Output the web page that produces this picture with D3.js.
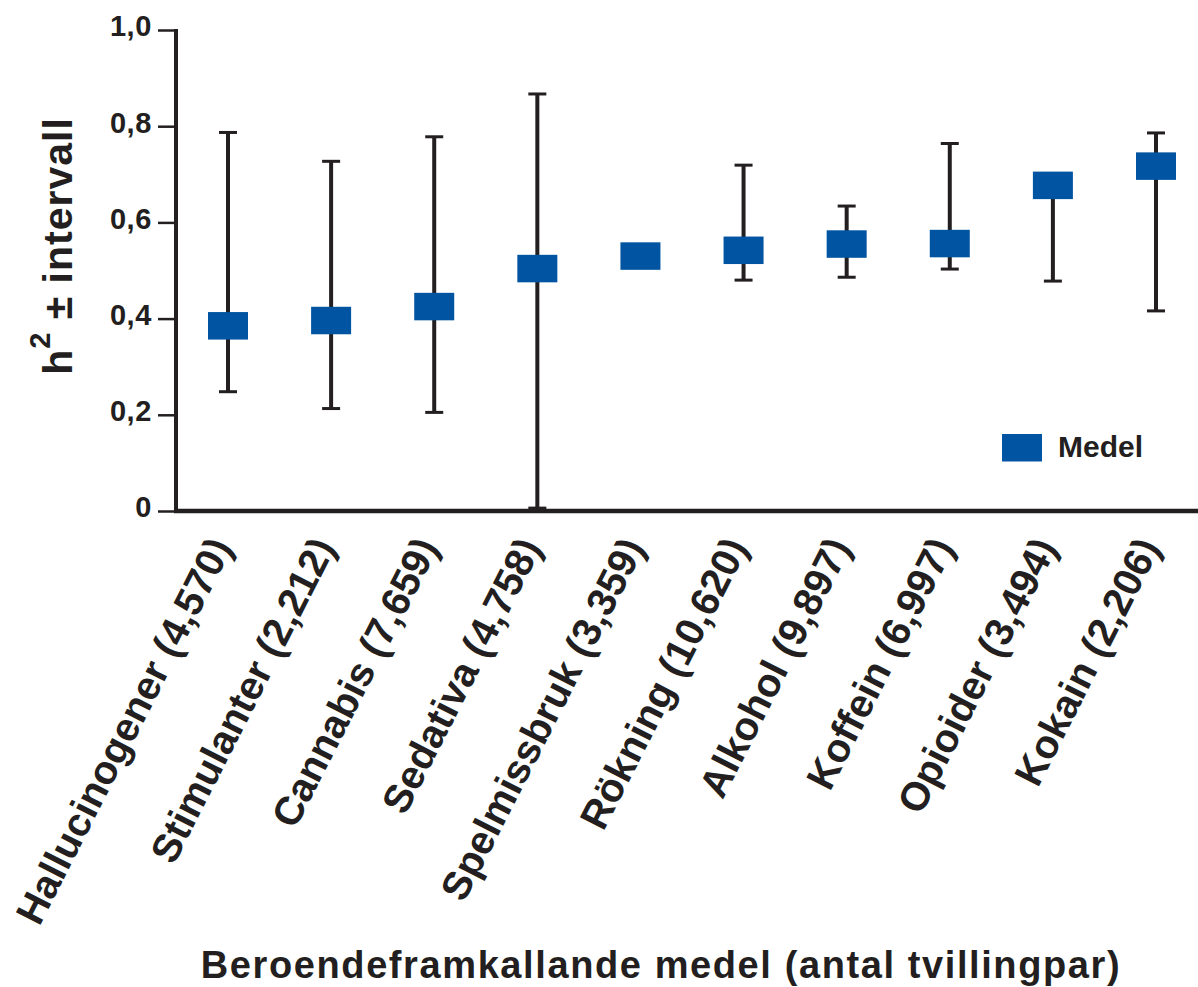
<!DOCTYPE html>
<html>
<head>
<meta charset="utf-8">
<script src="https://cdn.jsdelivr.net/npm/d3@7"></script>
<style>
  html, body { margin: 0; padding: 0; background: #fff; }
  svg { display: block; font-family: "Liberation Sans", Arial, Helvetica, sans-serif; font-weight: bold; }
</style>
</head>
<body>
<svg id="chart" width="1198" height="987"></svg>
<script>
// Substances (number of twin pairs in parentheses)
const categories = [
  "Hallucinogener (4,570)", "Stimulanter (2,212)", "Cannabis (7,659)",
  "Sedativa (4,758)", "Spelmissbruk (3,359)", "Rökning (10,620)",
  "Alkohol (9,897)", "Koffein (6,997)", "Opioider (3,494)", "Kokain (2,206)"
];
// Mean heritability estimate (h²) per substance
const means = [0.385, 0.396, 0.425, 0.504, 0.530, 0.542, 0.555, 0.556, 0.677, 0.717];
// Upper and lower bounds of the interval (null = no whisker drawn)
const upper = [0.787, 0.727, 0.778, 0.867, null, 0.719, 0.634, 0.764, null, 0.786];
const lower = [0.248, 0.213, 0.205, 0.006, null, 0.480, 0.486, 0.503, 0.478, 0.416];
// Y axis ticks and their labels
const yTicks = [0, 0.2, 0.4, 0.6, 0.8, 1.0];
const yTickLabels = ["0", "0,2", "0,4", "0,6", "0,8", "1,0"];

const rows = categories.map((c, i) => ({ cat: c, mean: means[i], hi: upper[i], lo: lower[i] }));

const W = 1198, H = 987;
const margin = { left: 176, top: 30, bottom: 476 };
const plotBottom = H - margin.bottom;   // y of the zero line

const svg = d3.select("#chart");
const ink = "#231f20";
const blue = "#0054a1";

const x = d3.scalePoint().domain(categories).range([margin.left + 52, margin.left + 980]);
const y = d3.scaleLinear().domain([0, 1]).range([plotBottom, margin.top]);

// Y axis
const yAxis = d3.axisLeft(y).tickValues(yTicks).tickSize(18).tickPadding(6)
  .tickFormat((d, i) => yTickLabels[i]);
const gy = svg.append("g").attr("transform", `translate(${margin.left},0)`).call(yAxis);
gy.select(".domain").remove();
gy.selectAll(".tick line").attr("stroke", ink).attr("stroke-width", 2.5);
gy.selectAll(".tick text").attr("fill", ink).attr("font-size", 29).attr("font-weight", "bold")
  .attr("letter-spacing", 0.6)
  .attr("font-family", "Liberation Sans, Arial, sans-serif").attr("dy", "0.2em");
svg.append("line")
  .attr("x1", margin.left).attr("x2", margin.left)
  .attr("y1", y(1) - 1).attr("y2", plotBottom)
  .attr("stroke", ink).attr("stroke-width", 4);

// Baseline across the full width
svg.append("line")
  .attr("x1", margin.left - 2).attr("x2", W)
  .attr("y1", plotBottom).attr("y2", plotBottom)
  .attr("stroke", ink).attr("stroke-width", 4.5);

// Error bars
const capW = 18;
const eb = svg.append("g").attr("class", "errorbars");
rows.forEach(d => {
  const cx = x(d.cat);
  const top = d.hi != null ? d.hi : d.mean;
  const bot = d.lo != null ? d.lo : d.mean;
  if (top !== bot) {
    eb.append("line").attr("x1", cx).attr("x2", cx).attr("y1", y(top)).attr("y2", y(bot))
      .attr("stroke", ink).attr("stroke-width", 4);
  }
  if (d.hi != null) {
    eb.append("line").attr("x1", cx - capW / 2).attr("x2", cx + capW / 2)
      .attr("y1", y(d.hi)).attr("y2", y(d.hi)).attr("stroke", ink).attr("stroke-width", 3);
  }
  if (d.lo != null) {
    eb.append("line").attr("x1", cx - capW / 2).attr("x2", cx + capW / 2)
      .attr("y1", y(d.lo)).attr("y2", y(d.lo)).attr("stroke", ink).attr("stroke-width", 3);
  }
});

// Mean markers
const boxW = 40, boxH = 27.5;
svg.append("g").selectAll("rect").data(rows).join("rect")
  .attr("x", d => x(d.cat) - boxW / 2)
  .attr("y", d => y(d.mean) - boxH / 2)
  .attr("width", boxW).attr("height", boxH)
  .attr("fill", blue);

// Category labels, rotated
svg.append("g").selectAll("text").data(categories).join("text")
  .attr("transform", d => `translate(${x(d) + 5},${plotBottom + 36}) rotate(-63)`)
  .attr("text-anchor", "end")
  .attr("font-size", 40)
  .attr("fill", ink)
  .text(d => d);

// Axis titles
const yt = svg.append("text")
  .attr("transform", `translate(72,${246}) rotate(-90)`)
  .attr("text-anchor", "middle")
  .attr("font-size", 41)
  .attr("letter-spacing", 1)
  .attr("fill", ink);
yt.append("tspan").text("h");
yt.append("tspan").attr("font-size", 29).attr("dy", -22).text("2");
yt.append("tspan").attr("dy", 22).text(" ± intervall");

svg.append("text")
  .attr("x", 661).attr("y", 978)
  .attr("text-anchor", "middle")
  .attr("font-size", 38)
  .attr("letter-spacing", 1.6)
  .attr("fill", ink)
  .text("Beroendeframkallande medel (antal tvillingpar)");

// Legend
const lg = svg.append("g").attr("transform", "translate(1002,434)");
lg.append("rect").attr("width", boxW).attr("height", boxH).attr("fill", blue);
lg.append("text").attr("x", 56).attr("y", 23).attr("font-size", 30).attr("fill", ink).text("Medel");
</script>
</body>
</html>
